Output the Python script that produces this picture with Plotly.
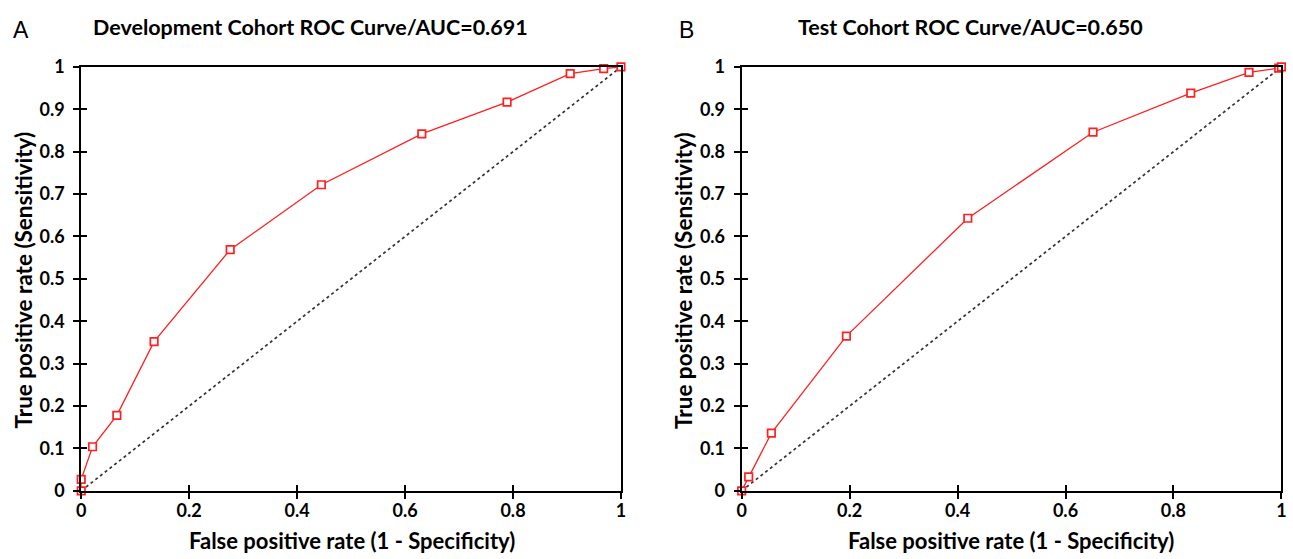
import plotly.graph_objects as go

# Development cohort ROC points
dev_fpr = [0.0, 0.0, 0.021, 0.066, 0.135, 0.276, 0.445, 0.631, 0.789, 0.906, 0.968, 1.0]
dev_tpr = [0.0, 0.027, 0.104, 0.178, 0.352, 0.569, 0.722, 0.842, 0.917, 0.984, 0.996, 1.0]

# Test cohort ROC points
test_fpr = [0.0, 0.013, 0.055, 0.194, 0.419, 0.651, 0.832, 0.940, 0.995, 1.0]
test_tpr = [0.0, 0.033, 0.136, 0.365, 0.643, 0.846, 0.938, 0.987, 0.997, 1.0]

diag = [0, 1]
tick_vals = [0, 0.1, 0.2, 0.3, 0.4, 0.5, 0.6, 0.7, 0.8, 0.9, 1]
tick_text = ["0", "0.1", "0.2", "0.3", "0.4", "0.5", "0.6", "0.7", "0.8", "0.9", "1"]
xtick_vals = [0, 0.2, 0.4, 0.6, 0.8, 1]
xtick_text = ["0", "0.2", "0.4", "0.6", "0.8", "1"]

titles = ["Development Cohort ROC Curve/AUC=0.691", "Test Cohort ROC Curve/AUC=0.650"]
panel_labels = ["A", "B"]
x_title = "False positive rate (1 - Specificity)"
y_title = "True positive rate (Sensitivity)"

W, H = 1293, 559
FONT = "Lato"
RED = "#ff2020"

# the photographed page appears slightly shrunk and offset; map target picture pixels to page pixels
SX, CX, SY, CY = 0.9946, 3.6, 0.962, 10.5

def px(x):
    return ((x - CX) / SX) / W

def py(y):
    return 1 - ((y - CY) / SY) / H

fig = go.Figure()

def add_panel(fpr, tpr, xa, ya):
    fig.add_trace(go.Scatter(x=diag, y=diag, mode="lines", xaxis=xa, yaxis=ya,
                             line=dict(color="#333333", width=1.7, dash="dot"),
                             showlegend=False, hoverinfo="skip"))
    fig.add_trace(go.Scatter(x=fpr, y=tpr, mode="lines+markers", xaxis=xa, yaxis=ya,
                             line=dict(color=RED, width=1.3),
                             marker=dict(symbol="square", size=7.5, color="white",
                                         line=dict(color=RED, width=1.7)),
                             showlegend=False, cliponaxis=False))

add_panel(dev_fpr, dev_tpr, "x", "y")
add_panel(test_fpr, test_tpr, "x2", "y2")
# dummy traces for overlay tick axes (inner half of the crossing ticks)
fig.add_trace(go.Scatter(x=[None], y=[None], xaxis="x3", yaxis="y3", showlegend=False))
fig.add_trace(go.Scatter(x=[None], y=[None], xaxis="x4", yaxis="y4", showlegend=False))

ydom = [py(490), py(65.5)]
xdom1 = [px(80), px(621)]
xdom2 = [px(742), px(1283)]

tickfont = dict(family=FONT, size=18, color="black", weight="bold")

def xax(dom, anchor):
    return dict(domain=dom, anchor=anchor, range=[0, 1], tickvals=xtick_vals, ticktext=xtick_text,
                ticks="outside", ticklen=6, tickwidth=1.5, tickcolor="black",
                showline=True, linecolor="black", linewidth=2, mirror=True,
                showgrid=False, zeroline=False, tickfont=tickfont, ticklabelstandoff=-3)

def yax(dom, anchor):
    return dict(domain=dom, anchor=anchor, range=[0, 1], tickvals=tick_vals, ticktext=tick_text,
                ticks="outside", ticklen=6, tickwidth=1.5, tickcolor="black",
                showline=True, linecolor="black", linewidth=2, mirror=True,
                showgrid=False, zeroline=False, tickfont=tickfont, ticklabelstandoff=5)

def overlay(dom, anchor, over, vals):
    return dict(domain=dom, anchor=anchor, overlaying=over, range=[0, 1], tickvals=vals,
                ticks="inside", ticklen=6, tickwidth=1.5, tickcolor="black",
                showticklabels=False, showline=False, showgrid=False, zeroline=False)

fig.update_layout(
    width=W, height=H, margin=dict(l=0, r=0, t=0, b=0),
    paper_bgcolor="white", plot_bgcolor="white",
    xaxis=xax(xdom1, "y"), yaxis=yax(ydom, "x"),
    xaxis2=xax(xdom2, "y2"), yaxis2=yax(ydom, "x2"),
    xaxis3=overlay(xdom1, "y3", "x", xtick_vals), yaxis3=overlay(ydom, "x3", "y", tick_vals),
    xaxis4=overlay(xdom2, "y4", "x2", xtick_vals), yaxis4=overlay(ydom, "x4", "y2", tick_vals),
)

annos = []
title_font = dict(family=FONT, size=21.5, color="black", weight="bold")
x_title_font = dict(family=FONT, size=22, color="black", weight="bold")
y_title_font = dict(family=FONT, size=22.5, color="black", weight="bold")
for cx, ttl in zip([310, 971], titles):
    annos.append(dict(text=ttl, x=px(cx), y=py(26), xref="paper", yref="paper",
                      xanchor="center", yanchor="middle", showarrow=False, font=title_font))
for lx, lab in zip([20, 687], panel_labels):
    annos.append(dict(text=lab, x=px(lx), y=py(29), xref="paper", yref="paper",
                      xanchor="center", yanchor="middle", showarrow=False,
                      font=dict(family="Liberation Sans", size=23, color="black")))
for cx in [351, 1012]:
    annos.append(dict(text=x_title, x=px(cx), y=py(540), xref="paper", yref="paper",
                      xanchor="center", yanchor="middle", showarrow=False, font=x_title_font))
for cx in [22, 683]:
    annos.append(dict(text=y_title, x=px(cx), y=py(279), xref="paper", yref="paper",
                      xanchor="center", yanchor="middle", showarrow=False, textangle=-90,
                      font=y_title_font))
fig.update_layout(annotations=annos)

fig.write_html("out.html", config={"displayModeBar": False},
               post_script="document.body.style.margin='0';document.body.style.overflow='hidden';")
